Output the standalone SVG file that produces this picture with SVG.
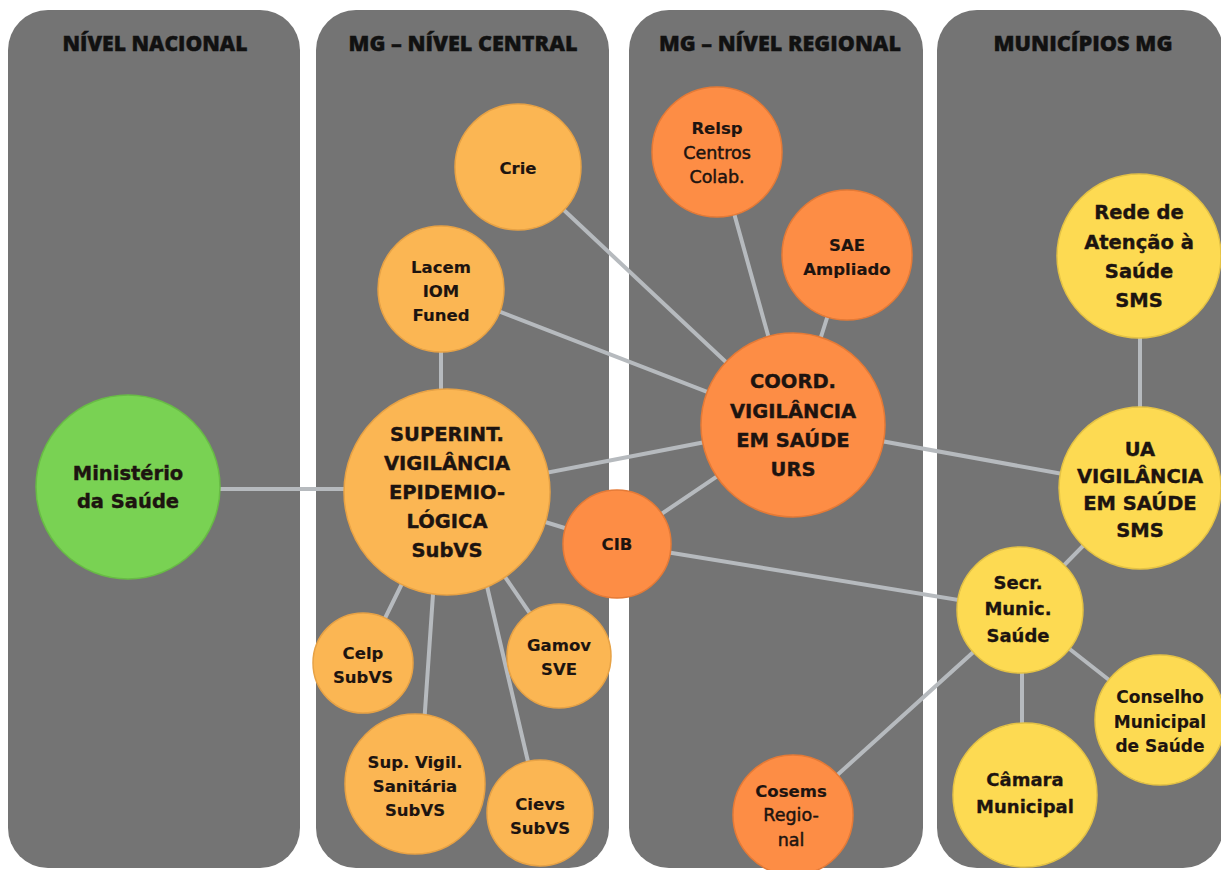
<svg xmlns="http://www.w3.org/2000/svg" width="1221" height="870" viewBox="0 0 1221 870">
<style>
.panel{fill:#747474}
.hdr{font-family:"Open Sans","Liberation Sans",sans-serif;font-weight:800;font-size:21px;fill:#111111;stroke:#111111;stroke-width:0.4;text-anchor:middle}
.conn line{stroke:#b6babe;stroke-width:4;stroke-linecap:round}
.t{font-family:"DejaVu Sans","Liberation Sans",sans-serif;font-weight:700;fill:#1d1410;stroke:#1d1410;stroke-width:0.4;text-anchor:middle}
.big{font-size:19.5px}
.mid{font-size:18px;stroke-width:0.3}
.sm{font-size:16.5px;stroke-width:0.15}
.cs{font-size:17px;stroke-width:0.15}
.reg{font-weight:400;font-size:17.5px;stroke-width:0.5}
.lo{fill:#fbb653;stroke:#e7a245;stroke-width:1.5}
.or{fill:#fd8d45;stroke:#e57a36;stroke-width:1.5}
.ye{fill:#fdda52;stroke:#e4c245;stroke-width:1.5}
.gr{fill:#79d253;stroke:#68bb45;stroke-width:1.5}
</style>
<rect width="1221" height="870" fill="#ffffff"/>
<g id="panels">
<rect class="panel" x="8" y="10" width="292" height="858" rx="40"/>
<rect class="panel" x="316" y="10" width="293" height="858" rx="40"/>
<rect class="panel" x="629" y="10" width="294" height="858" rx="40"/>
<rect class="panel" x="937" y="10" width="286" height="858" rx="40"/>
<text class="hdr" x="155" y="51" textLength="185" lengthAdjust="spacingAndGlyphs">NÍVEL NACIONAL</text>
<text class="hdr" x="463" y="51" textLength="229" lengthAdjust="spacingAndGlyphs">MG – NÍVEL CENTRAL</text>
<text class="hdr" x="780" y="51" textLength="242" lengthAdjust="spacingAndGlyphs">MG – NÍVEL REGIONAL</text>
<text class="hdr" x="1083" y="51" textLength="179" lengthAdjust="spacingAndGlyphs">MUNICÍPIOS MG</text>
</g>
<g id="connectors" class="conn">
<line x1="128" y1="489" x2="447" y2="489"/>
<line x1="441" y1="289" x2="441" y2="492"/>
<line x1="441" y1="289" x2="793" y2="425"/>
<line x1="518" y1="167" x2="793" y2="425"/>
<line x1="717" y1="152" x2="793" y2="425"/>
<line x1="847" y1="255" x2="793" y2="425"/>
<line x1="447" y1="492" x2="793" y2="425"/>
<line x1="447" y1="492" x2="617" y2="544"/>
<line x1="617" y1="544" x2="793" y2="425"/>
<line x1="617" y1="544" x2="1020" y2="610"/>
<line x1="793" y1="425" x2="1140" y2="488"/>
<line x1="1140" y1="256" x2="1140" y2="488"/>
<line x1="1140" y1="488" x2="1020" y2="610"/>
<line x1="1020" y1="610" x2="793" y2="815"/>
<line x1="1022" y1="610" x2="1022" y2="795"/>
<line x1="1020" y1="610" x2="1160" y2="720"/>
<line x1="447" y1="492" x2="363" y2="663"/>
<line x1="440" y1="492" x2="420" y2="784"/>
<line x1="465" y1="492" x2="540" y2="813"/>
<line x1="447" y1="492" x2="559" y2="656"/>
</g>
<g id="n-ministerio"><circle class="gr" cx="128" cy="487" r="92"/>
<text class="t big" x="128" y="480">Ministério</text><text class="t big" x="128" y="508">da Saúde</text></g>
<g id="n-superint"><circle class="lo" cx="447" cy="492" r="103"/>
<text class="t big" x="447" y="441">SUPERINT.</text><text class="t big" x="447" y="470">VIGILÂNCIA</text><text class="t big" x="447" y="499">EPIDEMIO-</text><text class="t big" x="447" y="528">LÓGICA</text><text class="t big" x="447" y="557">SubVS</text></g>
<g id="n-crie"><circle class="lo" cx="518" cy="167" r="63"/>
<text class="t sm" x="518" y="174">Crie</text></g>
<g id="n-lacem"><circle class="lo" cx="441" cy="289" r="63"/>
<text class="t sm" x="441" y="273">Lacem</text><text class="t sm" x="441" y="297">IOM</text><text class="t sm" x="441" y="321">Funed</text></g>
<g id="n-celp"><circle class="lo" cx="363" cy="663" r="50"/>
<text class="t sm" x="363" y="659">Celp</text><text class="t sm" x="363" y="683">SubVS</text></g>
<g id="n-gamov"><circle class="lo" cx="559" cy="656" r="52"/>
<text class="t sm" x="559" y="651">Gamov</text><text class="t sm" x="559" y="675">SVE</text></g>
<g id="n-supvigil"><circle class="lo" cx="415" cy="784" r="70"/>
<text class="t sm" x="415" y="768">Sup. Vigil.</text><text class="t sm" x="415" y="792">Sanitária</text><text class="t sm" x="415" y="816">SubVS</text></g>
<g id="n-cievs"><circle class="lo" cx="540" cy="813" r="53"/>
<text class="t sm" x="540" y="810">Cievs</text><text class="t sm" x="540" y="834">SubVS</text></g>
<g id="n-cib"><circle class="or" cx="617" cy="544" r="54"/>
<text class="t sm" x="617" y="550">CIB</text></g>
<g id="n-relsp"><circle class="or" cx="717" cy="152" r="65"/>
<text class="t sm" x="717" y="134">Relsp</text><text class="t reg" x="717" y="159">Centros</text><text class="t reg" x="717" y="183">Colab.</text></g>
<g id="n-sae"><circle class="or" cx="847" cy="255" r="65"/>
<text class="t sm" x="847" y="251">SAE</text><text class="t sm" x="847" y="275">Ampliado</text></g>
<g id="n-coord"><circle class="or" cx="793" cy="425" r="92"/>
<text class="t big" x="793" y="388">COORD.</text><text class="t big" x="793" y="418">VIGILÂNCIA</text><text class="t big" x="793" y="447">EM SAÚDE</text><text class="t big" x="793" y="476">URS</text></g>
<g id="n-cosems"><circle class="or" cx="793" cy="815" r="60"/>
<text class="t sm" x="791" y="797">Cosems</text><text class="t reg" x="791" y="821">Regio-</text><text class="t reg" x="791" y="846">nal</text></g>
<g id="n-rede"><circle class="ye" cx="1139" cy="256" r="82"/>
<text class="t big" x="1139" y="219">Rede de</text><text class="t big" x="1139" y="249">Atenção à</text><text class="t big" x="1139" y="278">Saúde</text><text class="t big" x="1139" y="307">SMS</text></g>
<g id="n-ua"><circle class="ye" cx="1140" cy="488" r="81"/>
<text class="t big" x="1140" y="456">UA</text><text class="t big" x="1140" y="483">VIGILÂNCIA</text><text class="t big" x="1140" y="510">EM SAÚDE</text><text class="t big" x="1140" y="537">SMS</text></g>
<g id="n-secr"><circle class="ye" cx="1020" cy="610" r="63"/>
<text class="t mid" x="1018" y="589">Secr.</text><text class="t mid" x="1018" y="615">Munic.</text><text class="t mid" x="1018" y="642">Saúde</text></g>
<g id="n-conselho"><circle class="ye" cx="1160" cy="720" r="65"/>
<text class="t cs" x="1160" y="703">Conselho</text><text class="t cs" x="1160" y="728">Municipal</text><text class="t cs" x="1160" y="752">de Saúde</text></g>
<g id="n-camara"><circle class="ye" cx="1025" cy="795" r="72"/>
<text class="t mid" x="1025" y="786">Câmara</text><text class="t mid" x="1025" y="813">Municipal</text></g>
</svg>
